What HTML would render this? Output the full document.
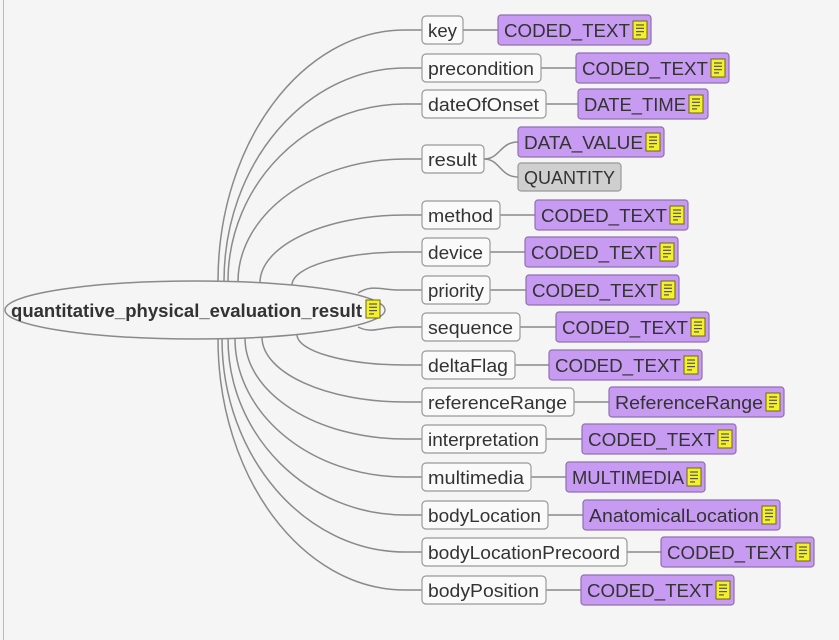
<!DOCTYPE html>
<html><head><meta charset="utf-8"><style>
html,body{margin:0;padding:0;background:#f5f5f5;}
svg{display:block}
text{font-family:"Liberation Sans",sans-serif;font-size:18px;fill:#333}
</style></head><body>
<svg id="s" width="839" height="640" viewBox="0 0 839 640" xmlns="http://www.w3.org/2000/svg">
<rect x="0" y="0" width="839" height="640" fill="#f5f5f5"/>
<line x1="3.5" y1="0" x2="3.5" y2="640" stroke="#bbb"/>
<g id="conn" fill="none" stroke="#8a8a8a" stroke-width="1.5"></g>
<ellipse cx="195" cy="310" rx="190" ry="29" fill="#f5f5f5" stroke="#8a8a8a" stroke-width="1.5"/>
<text x="11" y="317" textLength="351" lengthAdjust="spacingAndGlyphs" style="font-weight:bold;font-size:18px">quantitative_physical_evaluation_result</text>

<g fill="#fafafa" stroke="#999" stroke-width="1.2">
<rect x="422" y="16" width="41" height="28" rx="4"/>
<rect x="422" y="54" width="119" height="28" rx="4"/>
<rect x="422" y="90" width="124" height="28" rx="4"/>
<rect x="422" y="145" width="62" height="28" rx="4"/>
<rect x="422" y="201" width="78" height="28" rx="4"/>
<rect x="422" y="238" width="68" height="28" rx="4"/>
<rect x="422" y="276" width="68" height="28" rx="4"/>
<rect x="422" y="313" width="98" height="28" rx="4"/>
<rect x="422" y="351" width="93" height="28" rx="4"/>
<rect x="422" y="388" width="152" height="28" rx="4"/>
<rect x="422" y="425" width="124" height="28" rx="4"/>
<rect x="422" y="463" width="109" height="28" rx="4"/>
<rect x="422" y="501" width="126" height="28" rx="4"/>
<rect x="422" y="538" width="205" height="28" rx="4"/>
<rect x="422" y="576" width="124" height="28" rx="4"/>
</g>
<g lengthAdjust="spacingAndGlyphs">
<text x="428" y="37" textLength="29" lengthAdjust="spacingAndGlyphs">key</text>
<text x="428" y="75" textLength="106" lengthAdjust="spacingAndGlyphs">precondition</text>
<text x="428" y="111" textLength="111" lengthAdjust="spacingAndGlyphs">dateOfOnset</text>
<text x="428" y="166" textLength="49" lengthAdjust="spacingAndGlyphs">result</text>
<text x="428" y="222" textLength="65" lengthAdjust="spacingAndGlyphs">method</text>
<text x="428" y="259" textLength="55" lengthAdjust="spacingAndGlyphs">device</text>
<text x="428" y="297" textLength="56" lengthAdjust="spacingAndGlyphs">priority</text>
<text x="428" y="334" textLength="85" lengthAdjust="spacingAndGlyphs">sequence</text>
<text x="428" y="372" textLength="80" lengthAdjust="spacingAndGlyphs">deltaFlag</text>
<text x="428" y="409" textLength="139" lengthAdjust="spacingAndGlyphs">referenceRange</text>
<text x="428" y="446" textLength="111" lengthAdjust="spacingAndGlyphs">interpretation</text>
<text x="428" y="484" textLength="96" lengthAdjust="spacingAndGlyphs">multimedia</text>
<text x="428" y="522" textLength="113" lengthAdjust="spacingAndGlyphs">bodyLocation</text>
<text x="428" y="559" textLength="192" lengthAdjust="spacingAndGlyphs">bodyLocationPrecoord</text>
<text x="428" y="597" textLength="111" lengthAdjust="spacingAndGlyphs">bodyPosition</text>
</g>
<g fill="#c79bf2" stroke="#8f6fb0" stroke-width="1.2">
<rect x="498" y="15" width="153" height="30" rx="3"/>
<rect x="576" y="53" width="153" height="30" rx="3"/>
<rect x="578" y="89" width="130" height="30" rx="3"/>
<rect x="518" y="127" width="146" height="30" rx="3"/>
<rect x="535" y="200" width="153" height="30" rx="3"/>
<rect x="525" y="237" width="153" height="30" rx="3"/>
<rect x="526" y="275" width="153" height="30" rx="3"/>
<rect x="556" y="312" width="153" height="30" rx="3"/>
<rect x="549" y="350" width="153" height="30" rx="3"/>
<rect x="609" y="387" width="175" height="30" rx="3"/>
<rect x="582" y="424" width="154" height="30" rx="3"/>
<rect x="566" y="462" width="139" height="30" rx="3"/>
<rect x="583" y="500" width="197" height="30" rx="3"/>
<rect x="661" y="537" width="153" height="30" rx="3"/>
<rect x="581" y="575" width="153" height="30" rx="3"/>
</g>
<rect x="518" y="163" width="103" height="28" rx="3" fill="#cfcfcf" stroke="#999" stroke-width="1.2"/>
<g>
<text x="504" y="37" textLength="126" lengthAdjust="spacingAndGlyphs">CODED_TEXT</text>
<text x="582" y="75" textLength="126" lengthAdjust="spacingAndGlyphs">CODED_TEXT</text>
<text x="584" y="111" textLength="102" lengthAdjust="spacingAndGlyphs">DATE_TIME</text>
<text x="524" y="149" textLength="119" lengthAdjust="spacingAndGlyphs">DATA_VALUE</text>
<text x="524" y="184" textLength="91" lengthAdjust="spacingAndGlyphs">QUANTITY</text>
<text x="541" y="222" textLength="126" lengthAdjust="spacingAndGlyphs">CODED_TEXT</text>
<text x="531" y="259" textLength="126" lengthAdjust="spacingAndGlyphs">CODED_TEXT</text>
<text x="532" y="297" textLength="126" lengthAdjust="spacingAndGlyphs">CODED_TEXT</text>
<text x="562" y="334" textLength="126" lengthAdjust="spacingAndGlyphs">CODED_TEXT</text>
<text x="555" y="372" textLength="126" lengthAdjust="spacingAndGlyphs">CODED_TEXT</text>
<text x="615" y="409" textLength="148" lengthAdjust="spacingAndGlyphs">ReferenceRange</text>
<text x="588" y="446" textLength="127" lengthAdjust="spacingAndGlyphs">CODED_TEXT</text>
<text x="572" y="484" textLength="112" lengthAdjust="spacingAndGlyphs">MULTIMEDIA</text>
<text x="589" y="522" textLength="170" lengthAdjust="spacingAndGlyphs">AnatomicalLocation</text>
<text x="667" y="559" textLength="126" lengthAdjust="spacingAndGlyphs">CODED_TEXT</text>
<text x="587" y="597" textLength="126" lengthAdjust="spacingAndGlyphs">CODED_TEXT</text>
</g>
<g id="icons"></g>
</svg>
<script>
var ns="http://www.w3.org/2000/svg";
var conn=document.getElementById('conn'),icons=document.getElementById('icons');
function P(d){var p=document.createElementNS(ns,'path');p.setAttribute('d',d);conn.appendChild(p);}
var cx=195,cy=310,rx=190,ry=29;
function ey(x,up){var t=(x-cx)/rx;var h=ry*Math.sqrt(Math.max(0,1-t*t));return up?cy-h:cy+h;}
var L=[[218,30,463,498],[224,68,541,576],[228,104,546,578],[238,159,484,null],[260,215,500,535],[292,252,490,525],
[297,365,515,549],[262,402,574,609],[245,439,546,582],[235,477,531,566],[228,515,548,583],[222,552,627,661],[218,590,546,581]];
L.forEach(function(a){var sx=a[0],ty=a[1],up=ty<cy,sy=ey(sx,up),ex=405,k=0.55;
 P('M'+sx+' '+sy+' C'+sx+' '+(sy+(ty-sy)*k)+' '+(ex-(ex-sx)*k)+' '+ty+' '+ex+' '+ty+' L422 '+ty);
 if(a[3])P('M'+a[2]+' '+ty+' L'+a[3]+' '+ty);});
P('M358 293 C372 284 380 290 400 290 L422 290');P('M490 290 L526 290');
P('M358 327 C372 334 380 327 400 327 L422 327');P('M520 327 L556 327');
P('M484 159 C500 159 500 142 518 142');P('M484 159 C500 159 500 177 518 177');
function I(x,y){var r=document.createElementNS(ns,'rect');r.setAttribute('x',x);r.setAttribute('y',y);r.setAttribute('width',14);r.setAttribute('height',18);r.setAttribute('fill','#f4f02a');r.setAttribute('stroke','#6b6a10');icons.appendChild(r);
 for(var i=0;i<4;i++){var l=document.createElementNS(ns,'line');l.setAttribute('x1',x+3);l.setAttribute('x2',x+(i==3?8:11));l.setAttribute('y1',y+4+i*3.3);l.setAttribute('y2',y+4+i*3.3);l.setAttribute('stroke','#555');l.setAttribute('stroke-width','1.2');icons.appendChild(l);}}
[[366,300],[633,21],[711,59],[689,95],[646,133],[670,206],[660,243],[661,281],[691,318],[684,356],[766,393],[718,430],[687,468],[762,506],[796,543],[716,581]].forEach(function(a){I(a[0],a[1]);});
</script>
</body></html>
